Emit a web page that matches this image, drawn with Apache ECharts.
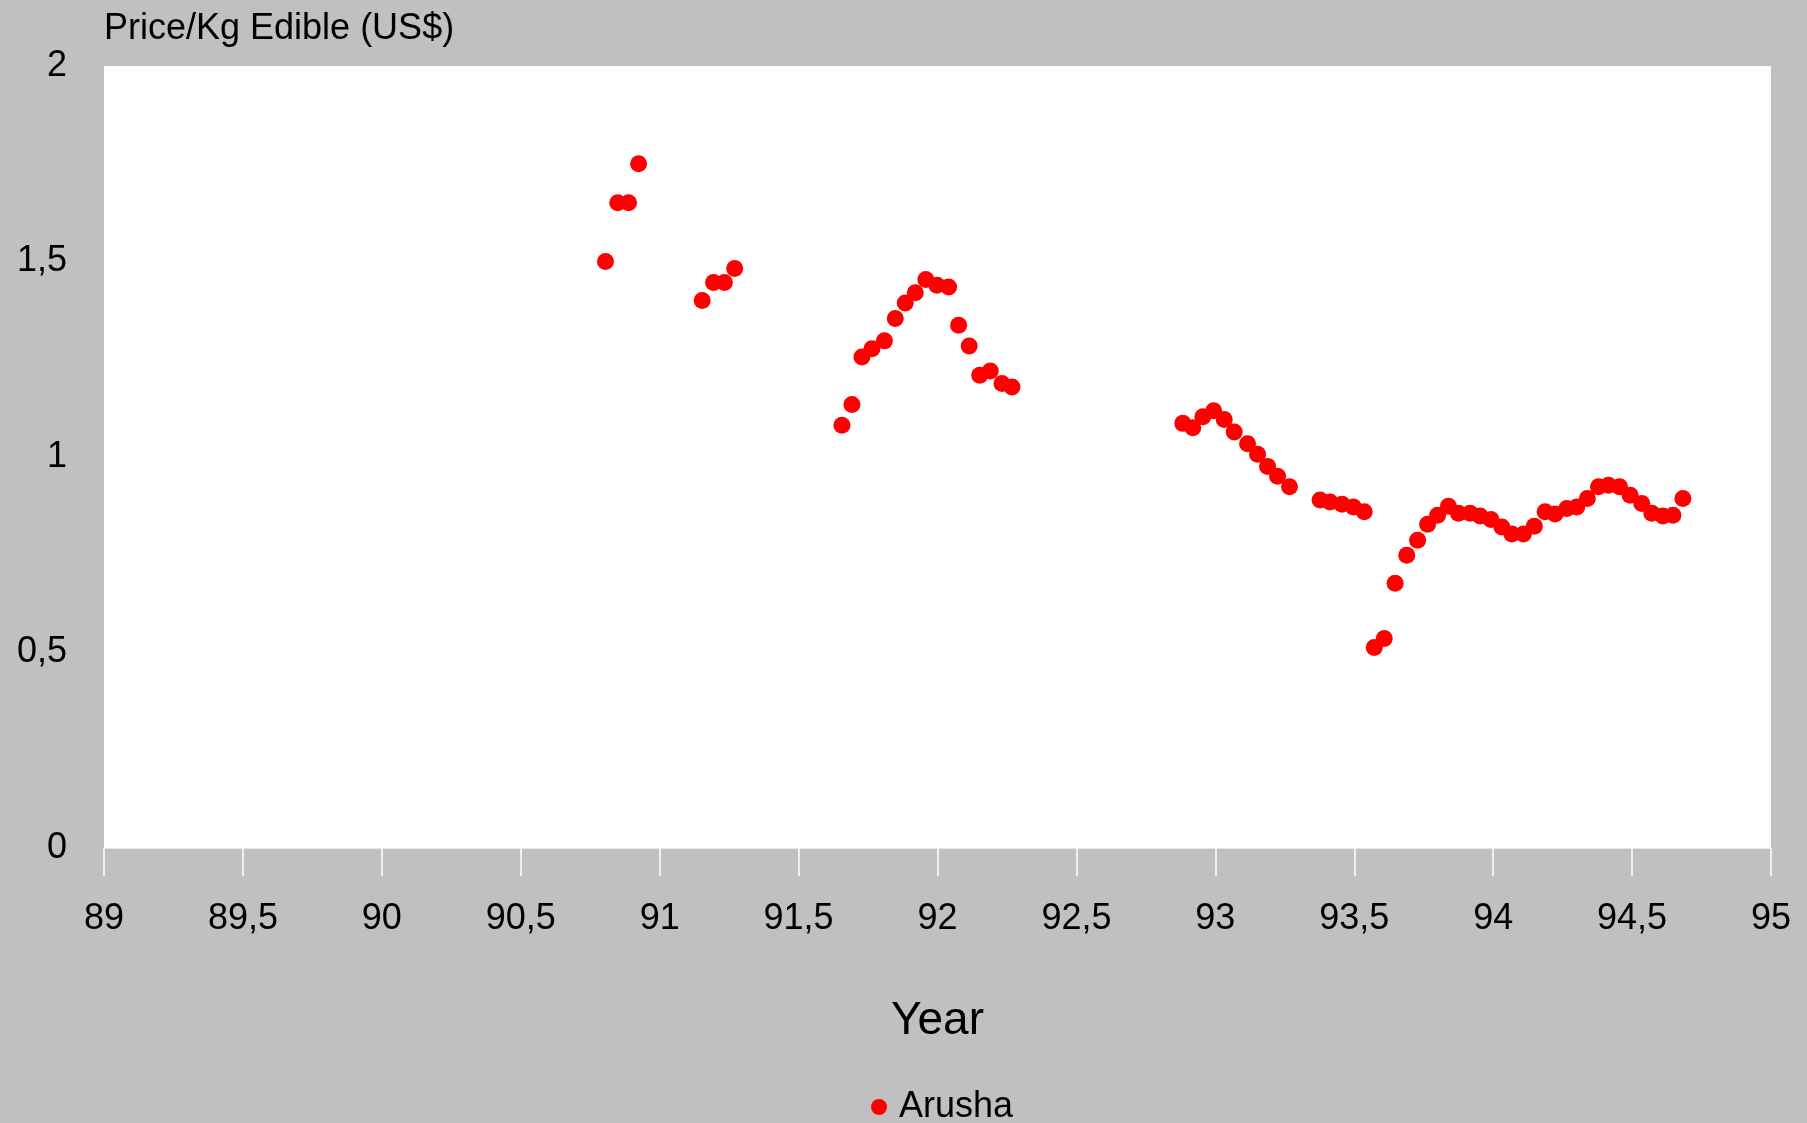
<!DOCTYPE html>
<html>
<head>
<meta charset="utf-8">
<script src="https://cdn.jsdelivr.net/npm/echarts@6/dist/echarts.min.js"></script>
<style>
html,body{margin:0;padding:0;background:#c0c0c0;}
#chart{width:1807px;height:1123px;}
</style>
</head>
<body>
<div id="chart"></div>
<script>
const seriesName = "Arusha";
const years = [
  90.805, 90.849, 90.888, 90.924,
  91.153, 91.194, 91.233, 91.270,
  91.656, 91.692, 91.728, 91.764, 91.809, 91.848, 91.884, 91.920, 91.958, 91.998, 92.040, 92.076, 92.114, 92.152, 92.190, 92.232, 92.268,
  92.883, 92.919, 92.955, 92.994, 93.032, 93.068, 93.116, 93.152, 93.188, 93.224, 93.267,
  93.377, 93.413, 93.456, 93.497, 93.536,
  93.572, 93.608, 93.647, 93.689, 93.728, 93.764, 93.800, 93.839, 93.875, 93.917, 93.953, 93.992, 94.031, 94.067, 94.109, 94.148,
  94.187, 94.223, 94.265, 94.301, 94.339, 94.379, 94.415, 94.455, 94.493, 94.535, 94.571, 94.611, 94.647, 94.683
];
const prices = [
  1.500, 1.650, 1.650, 1.750,
  1.400, 1.446, 1.446, 1.482,
  1.081, 1.134, 1.256, 1.277, 1.297, 1.354, 1.394, 1.420, 1.454, 1.439, 1.435, 1.337, 1.284, 1.209, 1.220, 1.188, 1.179,
  1.086, 1.075, 1.103, 1.118, 1.096, 1.064, 1.034, 1.007, 0.976, 0.951, 0.924,
  0.890, 0.885, 0.879, 0.872, 0.860,
  0.513, 0.536, 0.677, 0.749, 0.787, 0.828, 0.851, 0.874, 0.856, 0.856, 0.849, 0.840, 0.821, 0.803, 0.803, 0.823,
  0.860, 0.854, 0.868, 0.872, 0.894, 0.924, 0.928, 0.924, 0.902, 0.881, 0.856, 0.849, 0.851, 0.894
];
const xMin = 89, xMax = 95, xStep = 0.5;
const yMin = 0, yMax = 2, yStep = 0.5;

const points = years.map((x, i) => [x, prices[i]]);
const comma = v => String(v).replace('.', ',');
const FONT = "Liberation Sans";

const chart = echarts.init(document.getElementById('chart'), null, {renderer: 'canvas'});
chart.setOption({
  backgroundColor: '#c0c0c0',
  animation: false,
  textStyle: {fontFamily: FONT},
  grid: {
    left: 104, right: 36, top: 66, bottom: 275,
    show: true, backgroundColor: '#ffffff', borderWidth: 0
  },
  legend: {
    data: [seriesName],
    left: 866, top: 1084,
    itemWidth: 30, itemHeight: 16,
    textStyle: {fontFamily: FONT, fontSize: 36, color: '#000'}
  },
  xAxis: {
    type: 'value', min: xMin, max: xMax, interval: xStep,
    name: 'Year', nameLocation: 'middle', nameGap: 173,
    nameTextStyle: {fontFamily: FONT, fontSize: 46, color: '#000', verticalAlign: 'middle'},
    axisLine: {show: true, lineStyle: {color: '#e8e8e8', width: 1}},
    axisTick: {show: true, inside: false, length: 28, lineStyle: {color: '#ffffff', width: 1.5}},
    axisLabel: {margin: 53, fontFamily: FONT, fontSize: 36, color: '#000', formatter: comma},
    splitLine: {show: false}
  },
  yAxis: {
    type: 'value', min: yMin, max: yMax, interval: yStep,
    name: 'Price/Kg Edible (US$)', nameLocation: 'end', nameGap: 37,
    nameTextStyle: {fontFamily: FONT, fontSize: 36, color: '#000', align: 'left', verticalAlign: 'middle'},
    axisLine: {show: false},
    axisTick: {show: false},
    axisLabel: {margin: 37, fontFamily: FONT, fontSize: 36, color: '#000', formatter: comma, padding: [4, 0, 0, 0]},
    splitLine: {show: false}
  },
  series: [{
    name: seriesName,
    type: 'scatter',
    symbol: 'circle',
    symbolSize: 17,
    itemStyle: {color: '#ff0000', opacity: 1},
    data: points
  }]
});
</script>
</body>
</html>
